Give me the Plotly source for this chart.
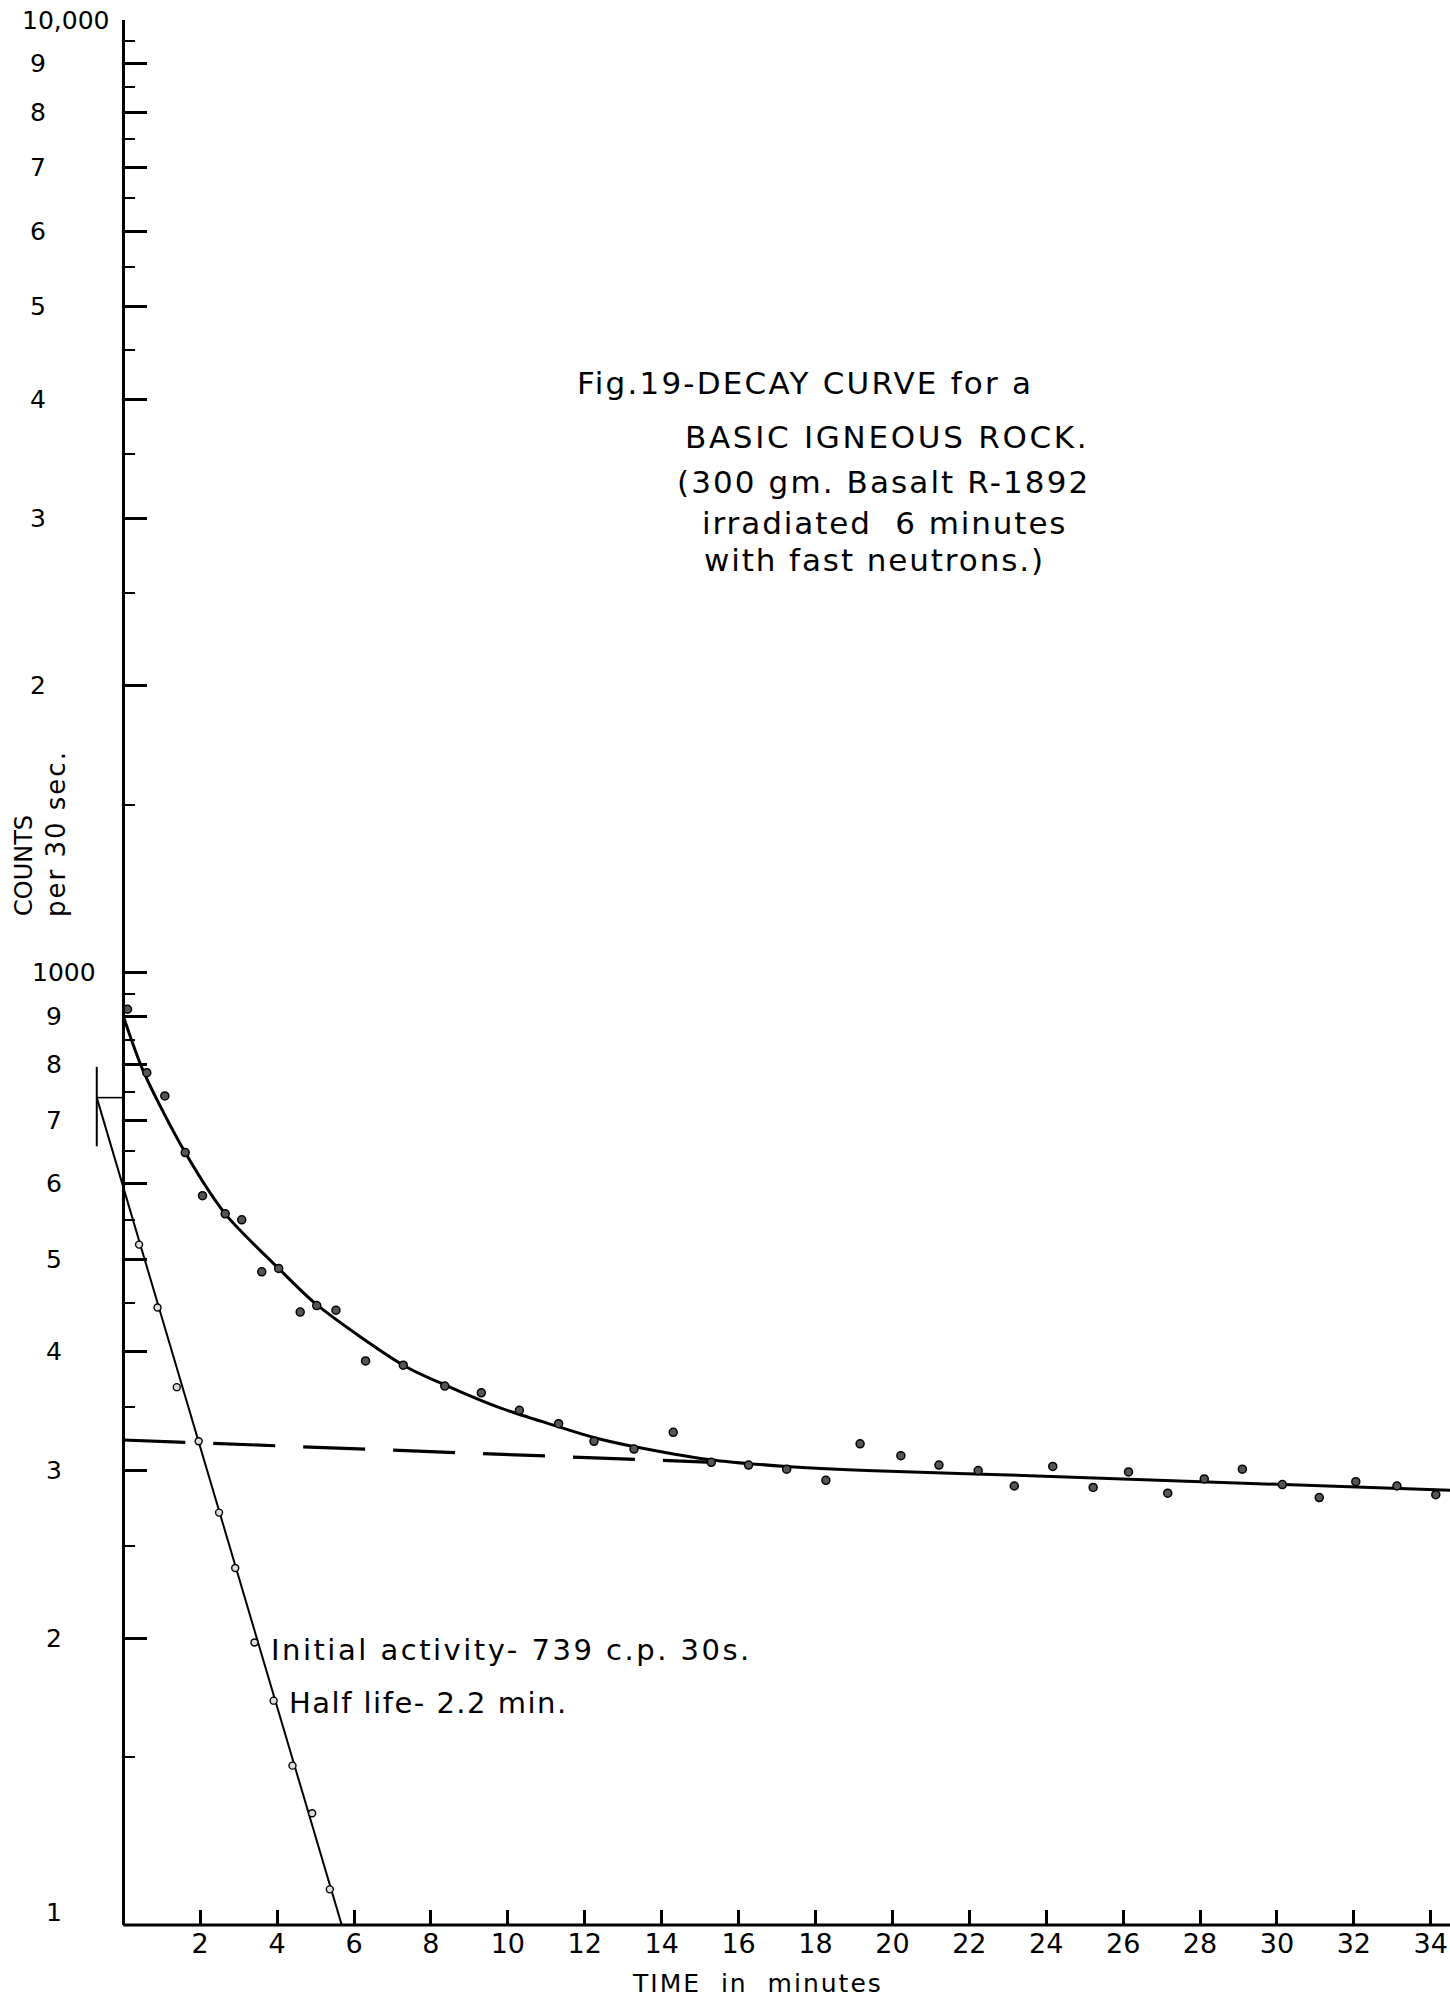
import math
import plotly.graph_objects as go

# ---------------- data ----------------
# measured total activity (circles on the upper curve), time in minutes
total_t = [0.11, 0.61, 1.08, 1.61, 2.06, 2.65, 3.08, 3.60, 4.04, 4.60, 5.03, 5.53, 6.30, 7.28,
           8.36, 9.31, 10.30, 11.32, 12.24, 13.28, 14.30, 15.29, 16.26, 17.25, 18.27, 19.16,
           20.22, 21.21, 22.23, 23.17, 24.17, 25.22, 26.14, 27.16, 28.11, 29.10, 30.14, 31.10,
           32.05, 33.12, 34.13]
total_counts = [915, 785, 742, 647, 583, 558, 550, 485, 489, 440, 447, 442, 391, 387,
                368, 362, 347, 336, 322, 316, 329, 306, 304, 301, 293, 320,
                311, 304, 300, 289, 303, 288, 299, 284, 294, 301, 290, 281,
                292, 289, 283]

# hand-drawn smooth decay curve through the total activity
curve_t = [0.0, 0.52, 1.61, 2.65, 4.04, 5.03, 7.28, 8.36, 9.80, 11.37, 12.23, 13.27,
           15.26, 17.25, 19.33, 22.80, 34.50]
curve_counts = [900, 788, 647, 558, 489, 448, 387, 369, 349, 333, 325, 318,
                308, 303, 300, 297, 286]

# short-lived component (total minus background)
short_t = [0.41, 0.89, 1.39, 1.96, 2.49, 2.91, 3.41, 3.91, 4.40, 4.91, 5.37]
short_counts = [518, 445, 367, 322, 271, 237, 198, 172, 147, 131, 109]

# straight line fitted to the short-lived component
short_line_t = [-0.69, 5.68]
short_line_counts = [739, 100]

# extrapolated long-lived background (dashed)
background_t = [0.0, 15.34]
background_counts = [323, 306]

# initial activity marker
initial_t = -0.69
initial_counts = 739
initial_bar_counts = [657, 796]

# axis ticks
x_tick_vals = [2, 4, 6, 8, 10, 12, 14, 16, 18, 20, 22, 24, 26, 28, 30, 32, 34]
x_tick_text = ["2", "4", "6", "8", "10", "12", "14", "16", "18", "20", "22", "24",
               "26", "28", "30", "32", "34"]
y_major_vals = [100, 200, 300, 400, 500, 600, 700, 800, 900,
                1000, 2000, 3000, 4000, 5000, 6000, 7000, 8000, 9000, 10000]
y_major_text = ["1", "2", "3", "4", "5", "6", "7", "8", "9",
                "1000", "2", "3", "4", "5", "6", "7", "8", "9", "10,000"]
y_minor_vals = [150, 250, 350, 450, 550, 650, 750, 850, 950,
                1500, 2500, 3500, 4500, 5500, 6500, 7500, 8500, 9500]

# ---------------- layout geometry ----------------
W, H = 1450, 2000
L, R, T, B = 94, 0, 20, 75
PW, PH = W - L - R, H - T - B
X_MIN, X_MAX = -0.762, 34.50
Y_MIN, Y_MAX = 100, 10000
FONT = "DejaVu Sans"


def pxx(px):
    return (px - L) / PW


def pxy(py):
    return (T + PH - py) / PH


fig = go.Figure()

# smooth total curve
fig.add_trace(go.Scatter(x=curve_t, y=curve_counts, mode="lines",
                         line=dict(color="black", width=3, shape="spline", smoothing=0.8),
                         hoverinfo="skip"))
# background (dashed)
fig.add_trace(go.Scatter(x=background_t, y=background_counts, mode="lines",
                         line=dict(color="black", width=3.2, dash="62px,28px"),
                         hoverinfo="skip"))
# short-lived straight line
fig.add_trace(go.Scatter(x=short_line_t, y=short_line_counts, mode="lines",
                         line=dict(color="black", width=2), hoverinfo="skip"))
# initial activity marker: vertical bar + horizontal tick to the axis
fig.add_trace(go.Scatter(x=[initial_t, initial_t], y=initial_bar_counts, mode="lines",
                         line=dict(color="black", width=2), hoverinfo="skip"))
fig.add_trace(go.Scatter(x=[initial_t, 0], y=[initial_counts, initial_counts], mode="lines",
                         line=dict(color="black", width=1.6), hoverinfo="skip"))
# data points
fig.add_trace(go.Scatter(x=total_t, y=total_counts, mode="markers",
                         marker=dict(symbol="circle", size=8, color="#555555",
                                     line=dict(color="black", width=1.5))))
fig.add_trace(go.Scatter(x=short_t, y=short_counts, mode="markers",
                         marker=dict(symbol="circle", size=7, color="#dddddd",
                                     line=dict(color="black", width=1.4))))

# bottom axis line starting at the y axis
fig.add_shape(type="line", xref="x", yref="paper", x0=0, x1=X_MAX, y0=0, y1=0,
              line=dict(color="black", width=3))
# longer top tick at 10,000
fig.add_shape(type="line", xref="x", yref="y", x0=0, x1=0.95,
              y0=math.log10(Y_MAX), y1=math.log10(Y_MAX),
              line=dict(color="black", width=3))

annotations = []
# y tick labels (hand-lettered, left aligned)
for v, txt in zip(y_major_vals, y_major_text):
    if v == 10000:
        ann = dict(x=pxx(111), xanchor="right")
    elif v == 1000:
        ann = dict(x=pxx(30), xanchor="left")
    elif v > 1000:
        ann = dict(x=pxx(28), xanchor="left")
    else:
        ann = dict(x=pxx(44), xanchor="left")
    ann.update(text=txt, xref="paper", yref="y", y=math.log10(v),
               yanchor="middle", showarrow=False,
               yshift=13 if v == 100 else 0,
               font=dict(family=FONT, size=25, color="black"))
    annotations.append(ann)

# y axis title
annotations.append(dict(text="COUNTS", xref="paper", yref="paper", x=pxx(24), y=pxy(866),
                        xanchor="center", yanchor="middle", textangle=-90, showarrow=False,
                        font=dict(family=FONT, size=24, color="black")))
annotations.append(dict(text='<span style="letter-spacing:2px">per 30 sec.</span>',
                        xref="paper", yref="paper", x=pxx(56), y=pxy(834),
                        xanchor="center", yanchor="middle", textangle=-90, showarrow=False,
                        font=dict(family=FONT, size=26, color="black")))

# x axis title
annotations.append(dict(text='<span style="letter-spacing:2px">TIME  in  minutes</span>',
                        xref="paper", yref="paper", x=pxx(757), y=pxy(1984),
                        xanchor="center", yanchor="middle", showarrow=False,
                        font=dict(family=FONT, size=25, color="black")))

# figure caption
title_lines = [
    ("Fig.19-DECAY CURVE for a", 575, 383, 2.2),
    ("BASIC IGNEOUS ROCK.", 683, 437, 2.7),
    ("(300 gm. Basalt R-1892", 675, 482, 2.1),
    ("irradiated  6 minutes", 700, 523, 1.9),
    ("with fast neutrons.)", 702, 560, 1.9),
]
for txt, lx, cy, ls in title_lines:
    annotations.append(dict(text=f'<span style="letter-spacing:{ls}px">{txt}</span>',
                            xref="paper", yref="paper", x=pxx(lx), y=pxy(cy),
                            xanchor="left", yanchor="middle", showarrow=False,
                            font=dict(family=FONT, size=31, color="black")))

# component annotations
annotations.append(dict(text='<span style="letter-spacing:2.5px">Initial activity- 739 c.p. 30s.</span>',
                        xref="paper", yref="paper", x=pxx(269), y=pxy(1650),
                        xanchor="left", yanchor="middle", showarrow=False,
                        font=dict(family=FONT, size=29, color="black")))
annotations.append(dict(text='<span style="letter-spacing:1.5px">Half life- 2.2 min.</span>',
                        xref="paper", yref="paper", x=pxx(287), y=pxy(1703),
                        xanchor="left", yanchor="middle", showarrow=False,
                        font=dict(family=FONT, size=29, color="black")))

fig.update_layout(
    width=W, height=H,
    margin=dict(l=L, r=R, t=T, b=B, pad=0),
    paper_bgcolor="white", plot_bgcolor="white",
    showlegend=False,
    font=dict(family=FONT, color="black"),
    annotations=annotations,
)
fig.update_xaxes(range=[X_MIN, X_MAX], showline=False, showgrid=False, zeroline=False,
                 tickmode="array", tickvals=x_tick_vals, ticktext=x_tick_text,
                 ticks="inside", ticklen=15, tickwidth=2.5, tickcolor="black",
                 tickfont=dict(family=FONT, size=27, color="black"))
fig.update_yaxes(type="log", range=[math.log10(Y_MIN), math.log10(Y_MAX)], anchor="free",
                 position=(0 - X_MIN) / (X_MAX - X_MIN),
                 showline=True, linewidth=3, linecolor="black",
                 showgrid=False, zeroline=False,
                 tickmode="array", tickvals=y_major_vals,
                 ticks="inside", ticklen=22, tickwidth=2.5, tickcolor="black",
                 showticklabels=False,
                 minor=dict(tickmode="array", tickvals=y_minor_vals, ticks="inside",
                            ticklen=10, tickwidth=2, tickcolor="black", showgrid=False))

fig.write_html("out.html")
